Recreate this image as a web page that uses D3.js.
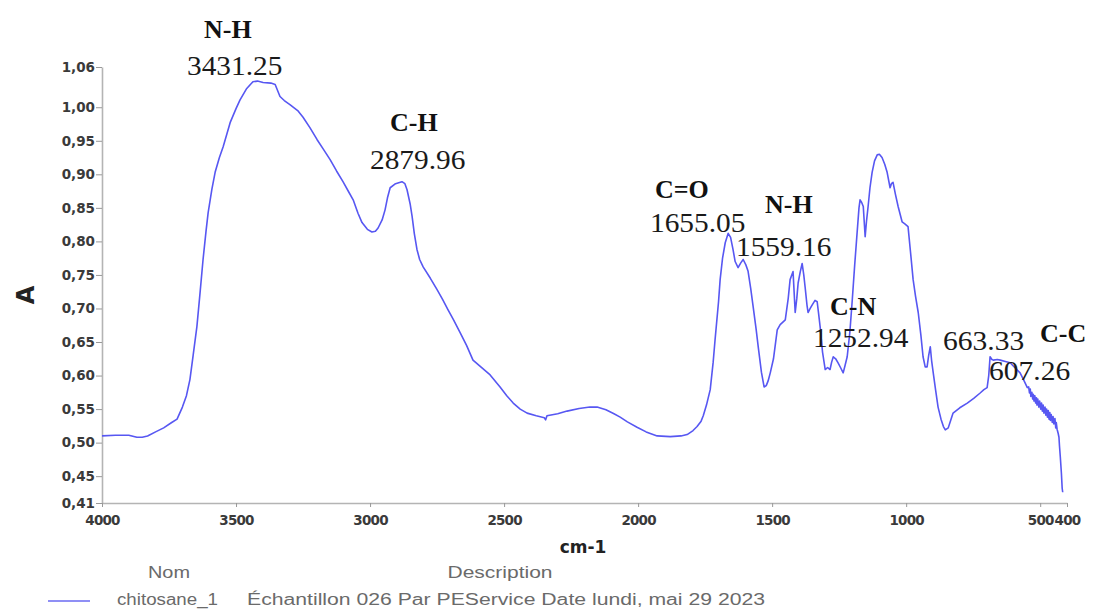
<!DOCTYPE html>
<html>
<head>
<meta charset="utf-8">
<script src="https://cdn.jsdelivr.net/npm/d3@7"></script>
<style>
  html, body { margin: 0; padding: 0; background: #fff; }
  svg { display: block; }
</style>
</head>
<body>
<svg id="chart" width="1094" height="610"></svg>
<script>
// FTIR spectrum of chitosan: wavenumber (cm-1) and absorbance (A)
const wavenumbers = [
  4000, 3950, 3900, 3870, 3850, 3830, 3800, 3770, 3740, 3720, 3700, 3685, 3672, 3660, 3646, 3635,
  3623, 3612, 3604, 3590, 3578, 3562, 3548, 3522, 3500, 3485, 3460, 3437, 3420, 3399, 3370, 3354,
  3345, 3336, 3320, 3299, 3270, 3250, 3225, 3198, 3175, 3149, 3125, 3101, 3080, 3063, 3045, 3030,
  3010, 2993, 2980, 2970, 2955, 2944, 2935, 2925, 2905, 2881, 2870, 2862, 2850, 2843, 2835, 2825,
  2815, 2802, 2775, 2750, 2730, 2709, 2690, 2664, 2640, 2616, 2590, 2552, 2515, 2490, 2466, 2440,
  2414, 2380, 2350, 2345, 2340, 2300, 2265, 2220, 2180, 2153, 2120, 2090, 2067, 2040, 2004, 1970,
  1929, 1880, 1840, 1817, 1795, 1780, 1765, 1757, 1745, 1731, 1720, 1713, 1700, 1694, 1685, 1675,
  1664, 1655, 1646, 1638, 1627, 1617, 1608, 1598, 1590, 1580, 1571, 1560, 1552, 1540, 1530, 1522,
  1515, 1507, 1495, 1481, 1470, 1451, 1440, 1433, 1422, 1414, 1408, 1403, 1395, 1388, 1382, 1377,
  1370, 1366, 1358, 1351, 1340, 1332, 1326, 1321, 1312, 1302, 1293, 1284, 1278, 1272, 1263, 1254,
  1245, 1235, 1228, 1220, 1210, 1201, 1192, 1183, 1176, 1172, 1166, 1160, 1153, 1148, 1142, 1135,
  1127, 1118, 1108, 1100, 1090, 1080, 1071, 1060, 1055, 1049, 1040, 1030, 1015, 1005, 993, 984,
  974, 965, 955, 945, 937, 929, 922, 916, 910, 905, 899, 890, 881, 870, 861, 854,
  843, 835, 825, 800, 772, 748, 724, 710, 698, 692, 687, 680, 675, 660, 649, 630,
  612, 595, 575, 560, 548, 543, 540, 537, 535, 531, 528, 526, 523, 520, 517, 514,
  512, 509, 505, 502, 498, 495, 492, 489, 486, 482, 479, 476, 473, 470, 467, 464,
  462, 459, 455, 452, 449, 445, 442, 440, 437, 433, 430, 428, 425, 421, 418, 416
];
const absorbance = [
  0.510, 0.511, 0.511, 0.508, 0.508, 0.510, 0.516, 0.522, 0.530, 0.535, 0.553, 0.570, 0.594, 0.630, 0.673, 0.720,
  0.773, 0.815, 0.843, 0.878, 0.903, 0.925, 0.941, 0.977, 0.998, 1.011, 1.028, 1.038, 1.039, 1.037, 1.036, 1.034,
  1.025, 1.016, 1.010, 1.004, 0.995, 0.985, 0.970, 0.952, 0.938, 0.922, 0.905, 0.889, 0.874, 0.862, 0.842, 0.828,
  0.818, 0.814, 0.815, 0.820, 0.832, 0.847, 0.865, 0.880, 0.886, 0.889, 0.886, 0.877, 0.855, 0.837, 0.812, 0.788,
  0.773, 0.762, 0.745, 0.728, 0.714, 0.698, 0.684, 0.664, 0.645, 0.623, 0.614, 0.601, 0.583, 0.570, 0.559, 0.550,
  0.544, 0.540, 0.537, 0.534, 0.540, 0.543, 0.547, 0.551, 0.553, 0.553, 0.549, 0.543, 0.538, 0.531, 0.523, 0.516,
  0.510, 0.509, 0.510, 0.512, 0.518, 0.524, 0.532, 0.540, 0.556, 0.579, 0.620, 0.653, 0.710, 0.743, 0.775, 0.798,
  0.812, 0.806, 0.788, 0.770, 0.761, 0.768, 0.773, 0.765, 0.756, 0.730, 0.703, 0.670, 0.643, 0.605, 0.583, 0.585,
  0.592, 0.604, 0.625, 0.668, 0.676, 0.683, 0.715, 0.743, 0.755, 0.694, 0.715, 0.738, 0.755, 0.767, 0.750, 0.732,
  0.705, 0.694, 0.700, 0.705, 0.712, 0.710, 0.690, 0.673, 0.635, 0.609, 0.612, 0.609, 0.620, 0.628, 0.625, 0.619,
  0.612, 0.604, 0.615, 0.628, 0.665, 0.713, 0.765, 0.813, 0.850, 0.862, 0.858, 0.852, 0.807, 0.830, 0.852, 0.880,
  0.903, 0.920, 0.929, 0.930, 0.925, 0.915, 0.903, 0.880, 0.886, 0.888, 0.870, 0.852, 0.829, 0.826, 0.822, 0.785,
  0.743, 0.718, 0.694, 0.660, 0.628, 0.613, 0.613, 0.630, 0.643, 0.622, 0.604, 0.578, 0.553, 0.535, 0.524, 0.519,
  0.522, 0.532, 0.544, 0.552, 0.559, 0.566, 0.574, 0.579, 0.582, 0.600, 0.628, 0.624, 0.623, 0.624, 0.623, 0.621,
  0.619, 0.612, 0.604, 0.592, 0.582, 0.583, 0.574, 0.580, 0.569, 0.575, 0.565, 0.572, 0.562, 0.570, 0.559, 0.567,
  0.556, 0.565, 0.553, 0.562, 0.550, 0.559, 0.547, 0.556, 0.544, 0.553, 0.541, 0.550, 0.538, 0.548, 0.535, 0.545,
  0.533, 0.542, 0.530, 0.539, 0.528, 0.536, 0.522, 0.530, 0.520, 0.514, 0.508, 0.495, 0.479, 0.455, 0.432, 0.426
];

// Axis ticks
const xTicks = [4000, 3500, 3000, 2500, 2000, 1500, 1000, 500, 400];
const yTicks = [1.06, 1.00, 0.95, 0.90, 0.85, 0.80, 0.75, 0.70, 0.65, 0.60, 0.55, 0.50, 0.45, 0.41];

// Band assignments: group name, labelled wavenumber
const bandNames  = ["N-H", "C-H", "C=O", "N-H", "C-N", "C-C"];
const bandGroups = ["3431.25", "2879.96", "1655.05", "1559.16", "1252.94", "607.26"];
const extraPeak  = ["663.33"];

// Legend text
const legendHeaders = ["Nom", "Description"];
const legendRow = ["chitosane_1", "Échantillon 026 Par PEService Date lundi, mai 29 2023"];

const svg = d3.select("#chart");

const x = d3.scaleLinear().domain([4000, 400]).range([102, 1067]);
const y = d3.scaleLinear().domain([0.41, 1.06]).range([503, 67]);

const axisGrey = "#b4b4b4";
const tickFont = "'DejaVu Sans', sans-serif";

// Y axis
const yAxis = svg.append("g")
  .attr("transform", "translate(102,0)")
  .call(d3.axisLeft(y).tickValues(yTicks).tickSize(6).tickSizeOuter(0).tickPadding(1)
    .tickFormat(d => d.toFixed(2).replace(".", ",")));
yAxis.select(".domain").attr("stroke", axisGrey).attr("stroke-width", 1.6);
yAxis.selectAll(".tick line").attr("stroke", "#999");
yAxis.selectAll(".tick text")
  .attr("fill", "#3a3a3a").attr("font-family", tickFont).attr("font-weight", "bold").attr("font-size", 13.5);

// X axis
const xAxis = svg.append("g")
  .attr("transform", "translate(0,503)")
  .call(d3.axisBottom(x).tickValues(xTicks).tickSize(4).tickSizeOuter(0).tickPadding(8)
    .tickFormat(d3.format("d")));
xAxis.select(".domain").attr("stroke", axisGrey).attr("stroke-width", 1.6);
xAxis.selectAll(".tick line").attr("stroke", "#999");
xAxis.selectAll(".tick text")
  .attr("fill", "#3a3a3a").attr("font-family", tickFont).attr("font-weight", "bold").attr("font-size", 13.5)
  .attr("letter-spacing", -0.8);

// Axis titles
svg.append("text")
  .attr("transform", "translate(34,295) rotate(-90)")
  .attr("text-anchor", "middle")
  .attr("font-family", "'DejaVu Sans', sans-serif").attr("font-weight", "bold").attr("font-size", 24)
  .attr("fill", "#222")
  .text("A");

svg.append("text")
  .attr("x", 583).attr("y", 553)
  .attr("text-anchor", "middle")
  .attr("font-family", "'DejaVu Sans', sans-serif").attr("font-weight", "bold").attr("font-size", 17)
  .attr("fill", "#222")
  .text("cm-1");

// Spectrum
const points = wavenumbers.map((w, i) => [w, absorbance[i]]);
const line = d3.line().x(d => x(d[0])).y(d => y(d[1]));
svg.append("path")
  .datum(points)
  .attr("d", line)
  .attr("fill", "none")
  .attr("stroke", "#5757f2")
  .attr("stroke-width", 1.6)
  .attr("stroke-linejoin", "round");

// Band annotations (Times-style serif)
const serif = "'Liberation Serif', 'Times New Roman', serif";
const nameLabels = [
  { t: bandNames[0], x: 204, y: 38 },
  { t: bandNames[1], x: 390, y: 131 },
  { t: bandNames[2], x: 655, y: 198 },
  { t: bandNames[3], x: 765, y: 213 },
  { t: bandNames[4], x: 830, y: 315 },
  { t: bandNames[5], x: 1040, y: 342 }
];
const valueLabels = [
  { t: bandGroups[0], x: 187, y: 75 },
  { t: bandGroups[1], x: 370, y: 169 },
  { t: bandGroups[2], x: 650, y: 232 },
  { t: bandGroups[3], x: 736, y: 256 },
  { t: bandGroups[4], x: 813, y: 347 },
  { t: extraPeak[0], x: 943, y: 350 },
  { t: bandGroups[5], x: 989, y: 380 }
];
svg.append("g").selectAll("text").data(nameLabels).join("text")
  .attr("x", d => d.x).attr("y", d => d.y)
  .attr("font-family", serif).attr("font-weight", "bold").attr("font-size", 26)
  .attr("fill", "#111")
  .text(d => d.t);
svg.append("g").selectAll("text").data(valueLabels).join("text")
  .attr("x", d => d.x).attr("y", d => d.y)
  .attr("font-family", serif).attr("font-size", 27)
  .attr("textLength", d => d.t.length * 14.2 - 4)
  .attr("lengthAdjust", "spacingAndGlyphs")
  .attr("fill", "#1a1a1a")
  .text(d => d.t);

// Legend table
const legFont = "'Liberation Sans', Arial, sans-serif";
const legColor = "#6a6a6a";
svg.append("text").attr("x", 169).attr("y", 578).attr("text-anchor", "middle")
  .attr("font-family", legFont).attr("font-size", 16).attr("fill", legColor)
  .attr("textLength", 42).attr("lengthAdjust", "spacingAndGlyphs")
  .text(legendHeaders[0]);
svg.append("text").attr("x", 500).attr("y", 578).attr("text-anchor", "middle")
  .attr("font-family", legFont).attr("font-size", 16).attr("fill", legColor)
  .attr("textLength", 105).attr("lengthAdjust", "spacingAndGlyphs")
  .text(legendHeaders[1]);
svg.append("line")
  .attr("x1", 48).attr("x2", 90).attr("y1", 601).attr("y2", 601)
  .attr("stroke", "#8f8ff5").attr("stroke-width", 1.8);
svg.append("text").attr("x", 117).attr("y", 605)
  .attr("font-family", legFont).attr("font-size", 16).attr("fill", legColor)
  .attr("textLength", 101).attr("lengthAdjust", "spacingAndGlyphs")
  .text(legendRow[0]);
svg.append("text").attr("x", 247).attr("y", 605)
  .attr("font-family", legFont).attr("font-size", 16).attr("fill", legColor)
  .attr("textLength", 518).attr("lengthAdjust", "spacingAndGlyphs")
  .text(legendRow[1]);
</script>
</body>
</html>
